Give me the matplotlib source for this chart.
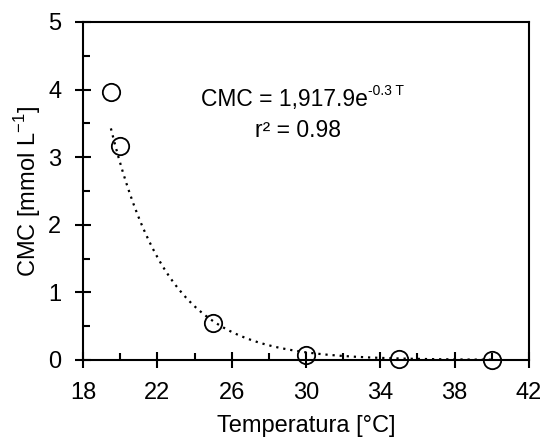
import numpy as np
import matplotlib
matplotlib.use("Agg")
import matplotlib.pyplot as plt
from matplotlib.ticker import MultipleLocator

plt.rcParams['font.family'] = ['Liberation Sans', 'DejaVu Sans']

temperature = [19.5, 20, 25, 30, 35, 40]
cmc = [3.97, 3.17, 0.54, 0.08, 0.02, 0.0]

FIT_A = 1917.9
FIT_B = 0.3245
fit_range = [19.5, 40]

x_ticks = [18, 22, 26, 30, 34, 38, 42]
y_ticks = [0, 1, 2, 3, 4, 5]

fig = plt.figure(figsize=(5.43, 4.44), dpi=100)
ax = fig.add_axes([0.1529, 0.1892, 0.8213, 0.7613])

tt = np.linspace(fit_range[0], fit_range[1], 300)
ax.plot(tt, FIT_A * np.exp(-FIT_B * tt), color='black', linestyle=(0, (1, 2.2)), linewidth=1.6, zorder=2)
ax.plot(temperature, cmc, linestyle='none', marker='o', markersize=12.5,
        markerfacecolor='none', markeredgecolor='black', markeredgewidth=1.3, zorder=3, clip_on=False)

ax.set_xlim(18, 42)
ax.set_ylim(0, 5)
ax.set_xticks(x_ticks)
ax.set_yticks(y_ticks)
ax.xaxis.set_minor_locator(MultipleLocator(2))
ax.yaxis.set_minor_locator(MultipleLocator(0.5))
ax.tick_params(which='major', direction='inout', length=11, width=1.5, labelsize=17, pad=10)
ax.tick_params(which='minor', direction='in', length=5, width=1.5)
for s in ax.spines.values():
    s.set_linewidth(1.5)

ax.set_xlabel('Temperatura [°C]', fontsize=17, labelpad=8)
ax.set_ylabel('CMC [mmol L$^{\\mathregular{-1}}$]', fontsize=17, labelpad=4)

main = ax.text(24.35, 3.86, 'CMC = 1,917.9e', ha='left', va='center', fontsize=16.5)
ax.annotate('-0.3 T', xy=(1.0, 0.55), xycoords=main, ha='left', va='bottom', fontsize=10)
ax.text(29.57, 3.40, 'r² = 0.98', ha='center', va='center', fontsize=16.5)

fig.savefig('out.png', dpi=100)
